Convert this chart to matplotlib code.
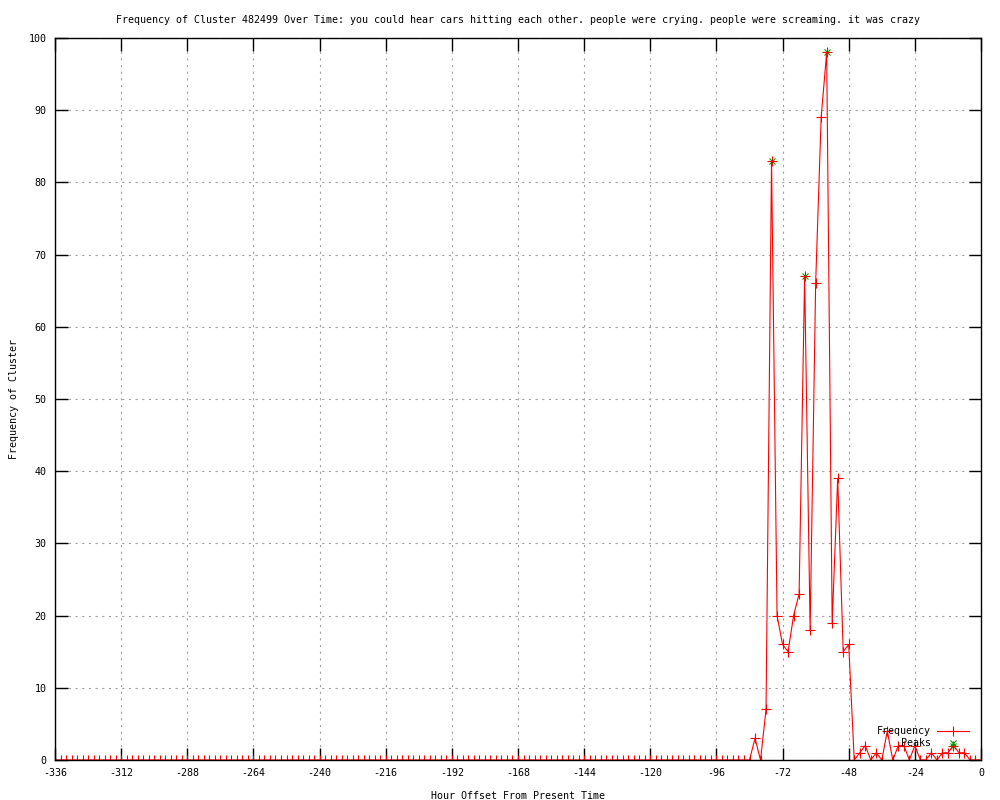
import numpy as np
import matplotlib
matplotlib.use("Agg")
import matplotlib.pyplot as plt

# hours from -336 to 0 every 2h, mostly zero
hours = list(range(-336, 1, 2))
nonzero = {-82: 3, -78: 7, -76: 83, -74: 20, -72: 16, -70: 15, -68: 20,
           -66: 23, -64: 67, -62: 18, -60: 66, -58: 89, -56: 98, -54: 19,
           -52: 39, -50: 15, -48: 16, -44: 1, -42: 2, -38: 1, -34: 4,
           -30: 2, -28: 2, -24: 2, -18: 1, -14: 1, -12: 1, -10: 2,
           -8: 1, -6: 1}
freq = [nonzero.get(h, 0) for h in hours]

peak_hours = [-76, -64, -56, -10]
peak_vals = [83, 67, 98, 2]

title = ("Frequency of Cluster 482499 Over Time: you could hear cars hitting "
         "each other. people were crying. people were screaming. it was crazy")

plt.rcParams['font.family'] = ['DejaVu Sans Mono']
plt.rcParams['axes.unicode_minus'] = False
fs = 7.2

fig = plt.figure(figsize=(10, 8), dpi=100)
ax = fig.add_axes([0.055, 0.05, 0.926, 0.9025])

ax.plot(hours, freq, color='red', lw=0.8, marker='+', ms=7, mew=0.8,
        label='Frequency')
ax.plot(peak_hours, peak_vals, ls='none', color='#00a000', marker='x',
        ms=5, mew=0.8, label='Peaks', zorder=1)

ax.set_xlim(-336, 0)
ax.set_ylim(0, 100)
ax.set_xticks(range(-336, 1, 24))
ax.set_yticks(range(0, 101, 10))
ax.tick_params(direction='in', length=9, width=1, top=True, right=True,
               labelsize=fs, pad=6)
ax.grid(True, color='#a0a0a0', ls=(0, (2, 4)), lw=0.8)
for s in ax.spines.values():
    s.set_linewidth(1)

ax.set_title(title, fontsize=fs, pad=11)
ax.set_xlabel("Hour Offset From Present Time", fontsize=fs, labelpad=9)
ax.set_ylabel("Frequency of Cluster", fontsize=fs, labelpad=7)

ax.legend(loc='lower right', frameon=False, fontsize=fs, markerfirst=False,
          handlelength=3.2, labelspacing=0.2, borderaxespad=0.8,
          handletextpad=0.6)

fig.savefig("out.png", dpi=100)
